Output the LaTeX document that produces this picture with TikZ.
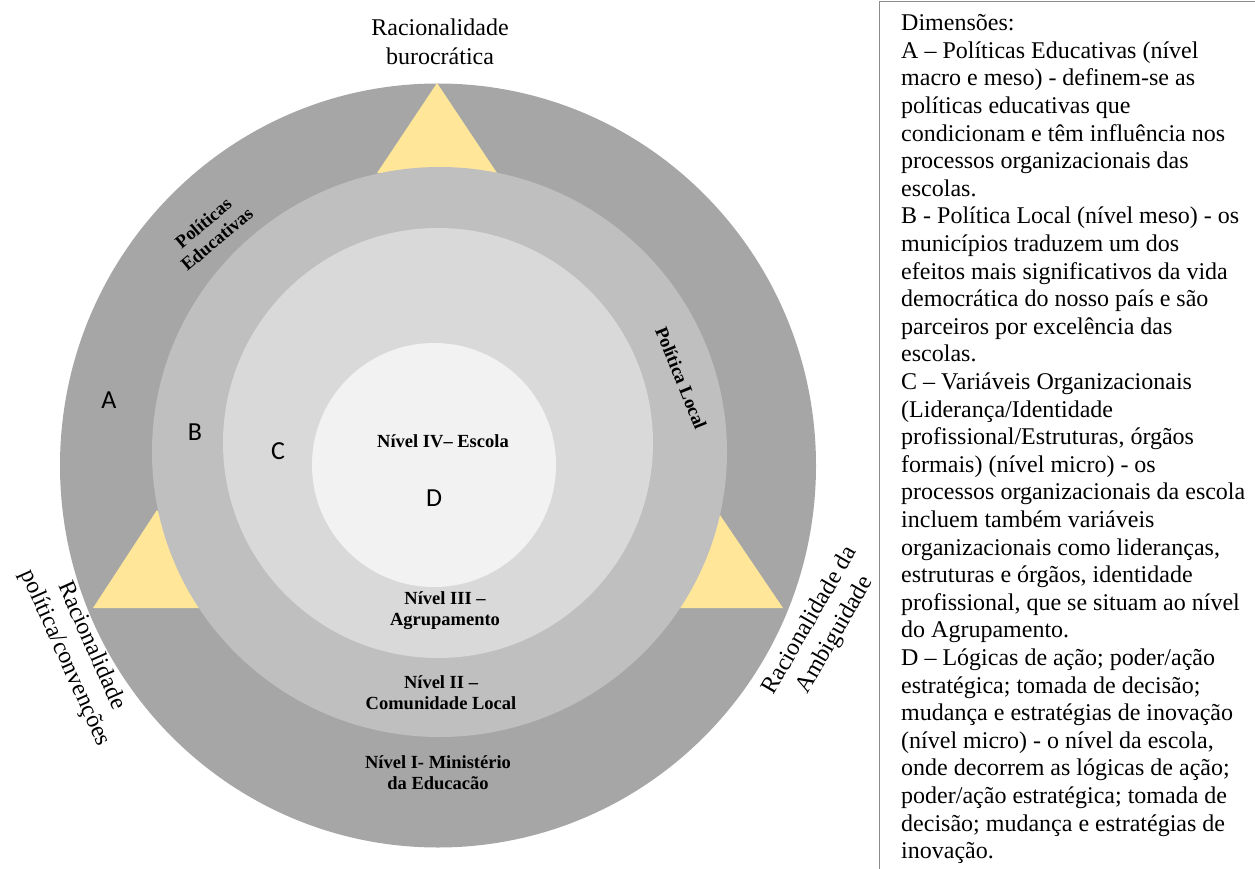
\documentclass[tikz,border=0pt]{standalone}
\usepackage{fontspec}
\setmainfont{Liberation Serif}
\newfontfamily\letterfont{Carlito}
\definecolor{ringA}{HTML}{A6A6A6}
\definecolor{ringB}{HTML}{BFBFBF}
\definecolor{ringC}{HTML}{D9D9D9}
\definecolor{ringD}{HTML}{F2F2F2}
\definecolor{tri}{HTML}{FFE699}
\definecolor{boxline}{HTML}{8C8C8C}
\tikzset{
  lvl/.style={align=center, font=\bfseries\fontsize{18.5}{21}\selectfont, inner sep=0pt},
  rat/.style={align=center, font=\fontsize{24}{29}\selectfont, inner sep=0pt},
  letter/.style={font=\letterfont\fontsize{26}{30}\selectfont, inner sep=0pt},
  tribox/.style={fill=tri, draw=none},
}
\begin{document}
\begin{tikzpicture}[x=1pt,y=-1pt]
\useasboundingbox (0,0) rectangle (1255,869);
% rings
\fill[ringA] (438,465.5) ellipse [x radius=378pt, y radius=382pt];
\fill[tribox] (437,83) -- (377,173) -- (497,173) -- cycle;
\fill[tribox] (157,510) -- (93,608) -- (221,608) -- cycle;
\fill[tribox] (720,515) -- (657,608) -- (783,608) -- cycle;
\fill[ringB] (439.5,452) ellipse [x radius=287.5pt, y radius=285pt];
\fill[ringC] (438,443) circle [radius=215pt];
\fill[ringD] (434,465) circle [radius=122pt];
% outer labels
\node[rat] (rb) at (440,42) {Racionalidade\\burocrática};
\node[rat, rotate=-66] (rp) at (78,652) {Racionalidade\\política/convenções};
\node[rat, rotate=60] (ra) at (823,628) {Racionalidade da\\Ambiguidade};
% ring labels
\node[lvl, rotate=40] (pe) at (210,231) {Políticas\\Educativas};
\node[lvl, rotate=-68] (pl) at (681,378) {Política Local};
\node[lvl] (n4) at (443,441) {Nível IV– Escola};
\node[lvl] (n3) at (445,611) {Nível III –\\Agrupamento};
\node[lvl] (n2) at (441,693) {Nível II –\\Comunidade Local};
\node[lvl] (n1) at (438,773) {Nível I- Ministério\\da Educacão};
\node[letter] (la) at (109,400) {A};
\node[letter] (lb) at (195,432) {B};
\node[letter] (lc) at (278,451) {C};
\node[letter] (ld) at (434,498) {D};
% legend
\draw[boxline, line width=1pt] (1260,2) -- (879,2) -- (879,875);
\node[anchor=base west, inner sep=0pt] (legend) at (901,30.7) {\parbox[t]{352pt}{\fontsize{24}{27.6}\selectfont
Dimensões:\\
A – Políticas Educativas (nível\\
macro e meso) - definem-se as\\
políticas educativas que\\
condicionam e têm influência nos\\
processos organizacionais das\\
escolas.\\
B - Política Local (nível meso) - os\\
municípios traduzem um dos\\
efeitos mais significativos da vida\\
democrática do nosso país e são\\
parceiros por excelência das\\
escolas.\\
C – Variáveis Organizacionais\\
(Liderança/Identidade\\
profissional/Estruturas, órgãos\\
formais) (nível micro) - os\\
processos organizacionais da escola\\
incluem também variáveis\\
organizacionais como lideranças,\\
estruturas e órgãos, identidade\\
profissional, que se situam ao nível\\
do Agrupamento.\\
D – Lógicas de ação; poder/ação\\
estratégica; tomada de decisão;\\
mudança e estratégias de inovação\\
(nível micro) - o nível da escola,\\
onde decorrem as lógicas de ação;\\
poder/ação estratégica; tomada de\\
decisão; mudança e estratégias de\\
inovação.}};
\end{tikzpicture}
\end{document}
